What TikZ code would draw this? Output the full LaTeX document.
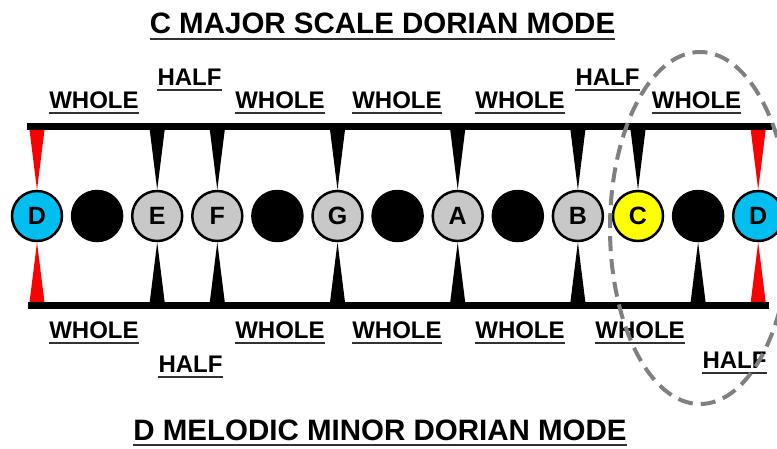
\documentclass[tikz,border=0pt]{standalone}
\usepackage{fontspec}
\setmainfont{Liberation Sans}
\usepackage{tikz}
\usetikzlibrary{calc}
\definecolor{notecyan}{RGB}{0,190,240}
\definecolor{notegray}{RGB}{200,200,200}
\definecolor{noteyellow}{RGB}{255,255,0}
\definecolor{stepred}{RGB}{255,0,0}
\definecolor{ringgray}{RGB}{128,128,128}
\definecolor{ulgray}{RGB}{50,50,50}
\tikzset{
  note/.style={circle, draw=black, line width=2.5pt, minimum size=50pt,
    inner sep=0pt, font=\fontsize{25}{25}\selectfont\bfseries},
  tonicnote/.style={note, fill=notecyan},
  scalenote/.style={note, fill=notegray},
  cnote/.style={note, fill=noteyellow},
  blacknote/.style={note, fill=black},
  lbl/.style={font=\fontsize{24}{24}\selectfont\bfseries, inner xsep=0pt,
    inner ysep=5pt, anchor=base,
    append after command={(\tikzlastnode.south west)
      edge[draw=ulgray, line width=2pt] (\tikzlastnode.south east)}},
  heading/.style={lbl, font=\fontsize{29.5}{30}\selectfont\bfseries},
  bar/.style={fill=black},
  ring/.style={draw=ringgray, line width=4pt, dash pattern=on 15pt off 8pt}
}
% wedge from a bar to the top / bottom of a note
\newcommand{\upwedge}[2][black]{\fill[#1] ($(#2.north)+(-8,-64)$) --
  ($(#2.north)+(8,-64)$) -- (#2.north) -- cycle;}
\newcommand{\downwedge}[2][black]{\fill[#1] ($(#2.south)+(-8,64)$) --
  ($(#2.south)+(8,64)$) -- (#2.south) -- cycle;}

\begin{document}
\begin{tikzpicture}[x=1pt, y=-1pt]
  \useasboundingbox (0,0) rectangle (777,448);
  % Titles
  \node[heading] (top) at (382.5,33.5) {C MAJOR SCALE DORIAN MODE};
  \node[heading] (bottom) at (380,440) {D MELODIC MINOR DORIAN MODE};
  % Notes
  \node[tonicnote] (d1) at (37,216) {D};
  \node[blacknote] (ds) at (97.1,216) {};
  \node[scalenote] (e) at (157.2,216) {E};
  \node[scalenote] (f) at (217.3,216) {F};
  \node[blacknote] (fs) at (277.4,216) {};
  \node[scalenote] (g) at (337.5,216) {G};
  \node[blacknote] (gs) at (397.6,216) {};
  \node[scalenote] (a) at (457.7,216) {A};
  \node[blacknote] (as) at (517.8,216) {};
  \node[scalenote] (b) at (577.9,216) {B};
  \node[cnote] (c) at (638,216) {C};
  \node[blacknote] (cs) at (698.1,216) {};
  \node[tonicnote] (d2) at (758.2,216) {D};
  % Upper steps (C major)
  \upwedge[stepred]{d1}
  \upwedge{e}
  \upwedge{f}
  \upwedge{g}
  \upwedge{a}
  \upwedge{b}
  \upwedge{c}
  \upwedge[stepred]{d2}
  % Lower steps (D melodic minor)
  \downwedge[stepred]{d1}
  \downwedge{e}
  \downwedge{f}
  \downwedge{g}
  \downwedge{a}
  \downwedge{b}
  \downwedge{cs}
  \downwedge[stepred]{d2}
  % Bars
  \fill[bar] (27,123) rectangle (772,130);
  \fill[bar] (28,302) rectangle (769,309);
  % Upper labels
  \node[lbl] (u1) at (94,108) {WHOLE};
  \node[lbl] (u2) at (189.5,85) {HALF};
  \node[lbl] (u3) at (280,108) {WHOLE};
  \node[lbl] (u4) at (397,108) {WHOLE};
  \node[lbl] (u5) at (520,108) {WHOLE};
  \node[lbl] (u6) at (607.5,85) {HALF};
  \node[lbl] (u7) at (696.5,108) {WHOLE};
  % Lower labels
  \node[lbl] (l1) at (94,338) {WHOLE};
  \node[lbl] (l2) at (190.5,372) {HALF};
  \node[lbl] (l3) at (280,338) {WHOLE};
  \node[lbl] (l4) at (397,338) {WHOLE};
  \node[lbl] (l5) at (520,338) {WHOLE};
  \node[lbl] (l6) at (640,338) {WHOLE};
  \node[lbl] (l7) at (734.5,368) {HALF};
  % Dashed ring round C -- D
  \draw[ring] (700,228) ellipse [x radius=90pt, y radius=176pt];
\end{tikzpicture}
\end{document}
